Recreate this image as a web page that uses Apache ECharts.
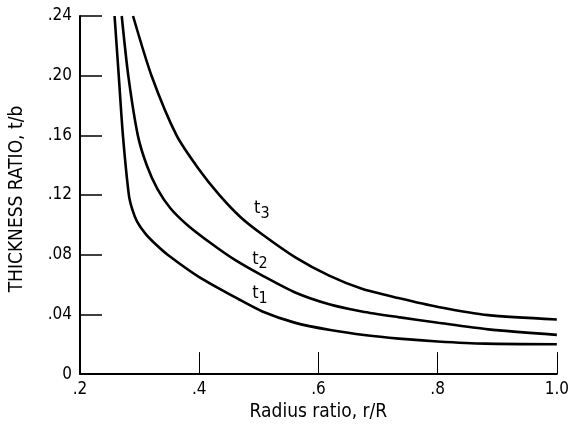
<!DOCTYPE html>
<html>
<head>
<meta charset="utf-8">
<script src="https://cdn.jsdelivr.net/npm/echarts@6/dist/echarts.min.js"></script>
<style>
  html, body { margin: 0; padding: 0; background: #fff; }
  #app { width: 572px; height: 427px; }
</style>
</head>
<body>
<div id="app"></div>
<script>
(function() {
  // 曲线数据 [r/R, t/b]
  const t1Data = [
    [0.258, 0.24], [0.265, 0.20], [0.272, 0.16], [0.282, 0.12], [0.288, 0.110],
    [0.296, 0.102], [0.310, 0.094], [0.327, 0.087], [0.347, 0.080], [0.40, 0.065],
    [0.467, 0.050], [0.506, 0.042], [0.56, 0.0345], [0.62, 0.0295], [0.68, 0.026],
    [0.735, 0.0238], [0.80, 0.0219], [0.88, 0.0204], [1.0, 0.020]
  ];
  const t2Data = [
    [0.270, 0.24], [0.281, 0.20], [0.297, 0.16], [0.312, 0.140], [0.330, 0.124],
    [0.352, 0.111], [0.380, 0.100], [0.422, 0.087], [0.46, 0.0765], [0.506, 0.066],
    [0.562, 0.0545], [0.618, 0.0468], [0.673, 0.042], [0.734, 0.0382], [0.801, 0.0344],
    [0.885, 0.030], [1.0, 0.0263]
  ];
  const t3Data = [
    [0.289, 0.24], [0.320, 0.20], [0.362, 0.160], [0.40, 0.137], [0.434, 0.120],
    [0.47, 0.105], [0.506, 0.0936], [0.562, 0.0781], [0.618, 0.066], [0.673, 0.0572],
    [0.734, 0.051], [0.801, 0.045], [0.885, 0.0395], [1.0, 0.0366]
  ];
  // 曲线标注
  const curveLabels = [
    { sub: '3', at: [0.505, 0.111] },
    { sub: '2', at: [0.502, 0.077] },
    { sub: '1', at: [0.502, 0.054] }
  ];

  const FONT = '"DejaVu Sans Condensed", "Liberation Sans Narrow", sans-serif';

  function lineSeries(data) {
    return {
      type: 'line',
      data: data,
      smooth: 0.25,
      showSymbol: false,
      lineStyle: { color: '#000', width: 2.6 }
    };
  }

  const myChart = echarts.init(document.getElementById('app'));
  const option = {
    animation: false,
    backgroundColor: '#fff',
    grid: { left: 80, right: 13, top: 16, bottom: 49 },
    xAxis: {
      type: 'value',
      min: 0.2,
      max: 1.0,
      interval: 0.2,
      name: 'Radius ratio, r/R',
      nameLocation: 'middle',
      nameGap: 23,
      nameTextStyle: { color: '#000', fontSize: 19, fontFamily: FONT },
      axisLine: { show: true, onZero: false, lineStyle: { color: '#000', width: 2 } },
      axisTick: { show: true, inside: true, length: 22, lineStyle: { color: '#000', width: 1 } },
      axisLabel: {
        color: '#000',
        fontSize: 17,
        fontFamily: FONT,
        margin: 7,
        formatter: v => (Math.abs(v - 1) < 1e-9 ? '1.0' : v.toFixed(1).replace(/^0/, ''))
      },
      splitLine: { show: false }
    },
    yAxis: {
      type: 'value',
      min: 0,
      max: 0.24,
      interval: 0.04,
      name: 'THICKNESS RATIO, t/b',
      nameLocation: 'middle',
      nameGap: 53,
      nameTextStyle: { color: '#000', fontSize: 19, fontFamily: FONT, padding: [0, 0, 0, -8] },
      axisLine: { show: true, onZero: false, lineStyle: { color: '#000', width: 2 } },
      axisTick: { show: true, inside: true, length: 22, lineStyle: { color: '#000', width: 1.5 } },
      axisLabel: {
        color: '#000',
        fontSize: 17,
        fontFamily: FONT,
        margin: 8,
        formatter: v => (v === 0 ? '0' : v.toFixed(2).replace(/^0/, ''))
      },
      splitLine: { show: false }
    },
    series: [lineSeries(t1Data), lineSeries(t2Data), lineSeries(t3Data)]
  };
  myChart.setOption(option);

  // t1/t2/t3 标注（用坐标换算定位）
  myChart.setOption({
    graphic: curveLabels.map(item => {
      const p = myChart.convertToPixel({ gridIndex: 0 }, item.at);
      return {
        type: 'text',
        x: p[0],
        y: p[1],
        style: {
          text: 't{s|' + item.sub + '}',
          font: '18px ' + FONT,
          fill: '#000',
          align: 'center',
          verticalAlign: 'middle',
          rich: {
            s: { fontSize: 16, fontFamily: FONT, padding: [10, 0, 0, 0] }
          }
        }
      };
    })
  });
})();
</script>
</body>
</html>
